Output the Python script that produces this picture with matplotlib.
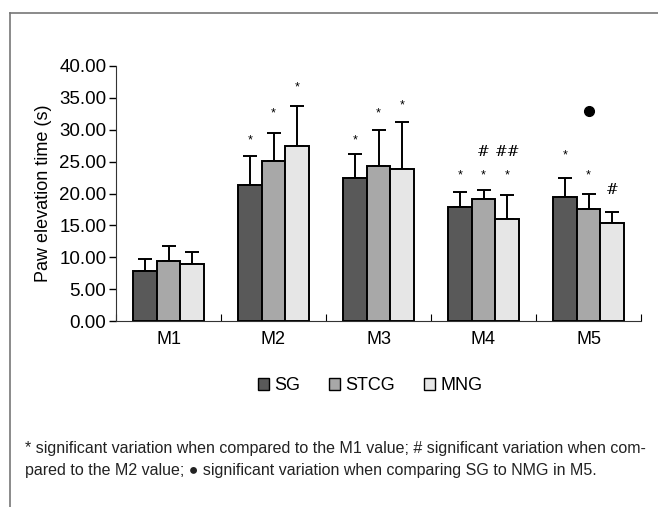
import matplotlib

matplotlib.use("Agg")

import matplotlib.pyplot as plt
import numpy as np
from matplotlib.lines import Line2D
from matplotlib.patches import Patch

moments = ["M1", "M2", "M3", "M4", "M5"]
groups = ["SG", "STCG", "MNG"]
sg_mean = [7.8, 21.3, 22.5, 17.9, 19.4]
stcg_mean = [9.4, 25.1, 24.3, 19.2, 17.6]
mng_mean = [8.9, 27.4, 23.9, 16.0, 15.3]
sg_sd = [1.9, 4.6, 3.7, 2.3, 3.1]
stcg_sd = [2.3, 4.4, 5.7, 1.4, 2.3]
mng_sd = [1.9, 6.3, 7.3, 3.7, 1.8]

# significance marks: (moment index, group index, text, height)
marks = [
    (1, 0, "*", 28.3), (1, 1, "*", 32.6), (1, 2, "*", 36.6),
    (2, 0, "*", 28.3), (2, 1, "*", 32.6), (2, 2, "*", 33.8),
    (3, 0, "*", 22.9), (3, 1, "*", 22.9), (3, 2, "*", 22.9),
    (3, 1, "#", 26.5), (3, 2, "##", 26.5),
    (4, 0, "*", 25.9), (4, 1, "*", 22.9), (4, 2, "#", 20.6),
]
dot_mark = (4, 1, 32.9)

plt.rcParams["font.family"] = ["Liberation Sans", "DejaVu Sans"]

colors = ["#595959", "#a8a8a8", "#e6e6e6"]
means = [sg_mean, stcg_mean, mng_mean]
sds = [sg_sd, stcg_sd, mng_sd]

fig = plt.figure(figsize=(6.58, 5.07), dpi=100)
ax = fig.add_axes([116 / 658, 1 - 321 / 507, 525 / 658, (321 - 66) / 507])

x = np.arange(len(moments))
w = 0.226
for i in range(3):
    pos = x + (i - 1) * w
    ax.bar(pos, means[i], width=w, color=colors[i], edgecolor="black",
           linewidth=1.4, zorder=2)
    ax.errorbar(pos, means[i], yerr=[np.zeros(5), sds[i]], fmt="none",
                ecolor="black", elinewidth=1.4, capsize=5, capthick=1.4,
                zorder=1)

for m, g, txt, h in marks:
    xx = m + (g - 1) * w
    if txt == "*":
        ax.text(xx, h, txt, ha="center", va="center", fontsize=9)
    else:
        ax.text(xx, h, txt, ha="center", va="center", fontsize=11,
                family="DejaVu Serif")
ax.plot(dot_mark[0] + (dot_mark[1] - 1) * w, dot_mark[2], "o",
        color="black", markersize=7)

ax.set_xlim(-0.5, 4.5)
ax.set_ylim(0, 40)
ax.set_yticks(np.arange(0, 41, 5))
ax.set_yticklabels([f"{v:.2f}" for v in np.arange(0, 41, 5)], fontsize=13.5)
ax.set_xticks(np.arange(-0.5, 5, 1))
ax.set_xticklabels([])
ax.set_xticks(x, minor=True)
ax.set_xticklabels(moments, minor=True, fontsize=13)
ax.tick_params(axis="x", which="minor", length=0, pad=7)
ax.tick_params(axis="x", which="major", length=5, direction="in")
ax.tick_params(axis="y", length=5, width=1, pad=2)
for s in ["top", "right"]:
    ax.spines[s].set_visible(False)
for s in ["left", "bottom"]:
    ax.spines[s].set_color("#333333")
ax.set_ylabel("Paw elevation time (s)", fontsize=13, labelpad=5)

handles = [Patch(facecolor=c, edgecolor="black", linewidth=1) for c in colors]
fig.legend(handles, groups, loc="center", bbox_to_anchor=(370 / 658, 1 - 386 / 507),
           ncol=3, frameon=False, fontsize=13, handlelength=0.6,
           handleheight=0.6, handletextpad=0.3, columnspacing=1.6)

# outer frame (left and top only)
fig.add_artist(Line2D([10 / 658, 10 / 658], [0, 1 - 13 / 507],
                      color="#777777", linewidth=1.2))
fig.add_artist(Line2D([10 / 658, 1], [1 - 13 / 507, 1 - 13 / 507],
                      color="#777777", linewidth=1.2))

fig.text(25 / 658, 1 - 448 / 507,
         "* significant variation when compared to the M1 value; # significant variation when com-",
         fontsize=11.5, va="center", color="#222222")
fig.text(25 / 658, 1 - 470 / 507,
         "pared to the M2 value; \u25cf significant variation when comparing SG to NMG in M5.",
         fontsize=11.5, va="center", color="#222222")

fig.savefig("out.png", dpi=100)
plt.close(fig)
